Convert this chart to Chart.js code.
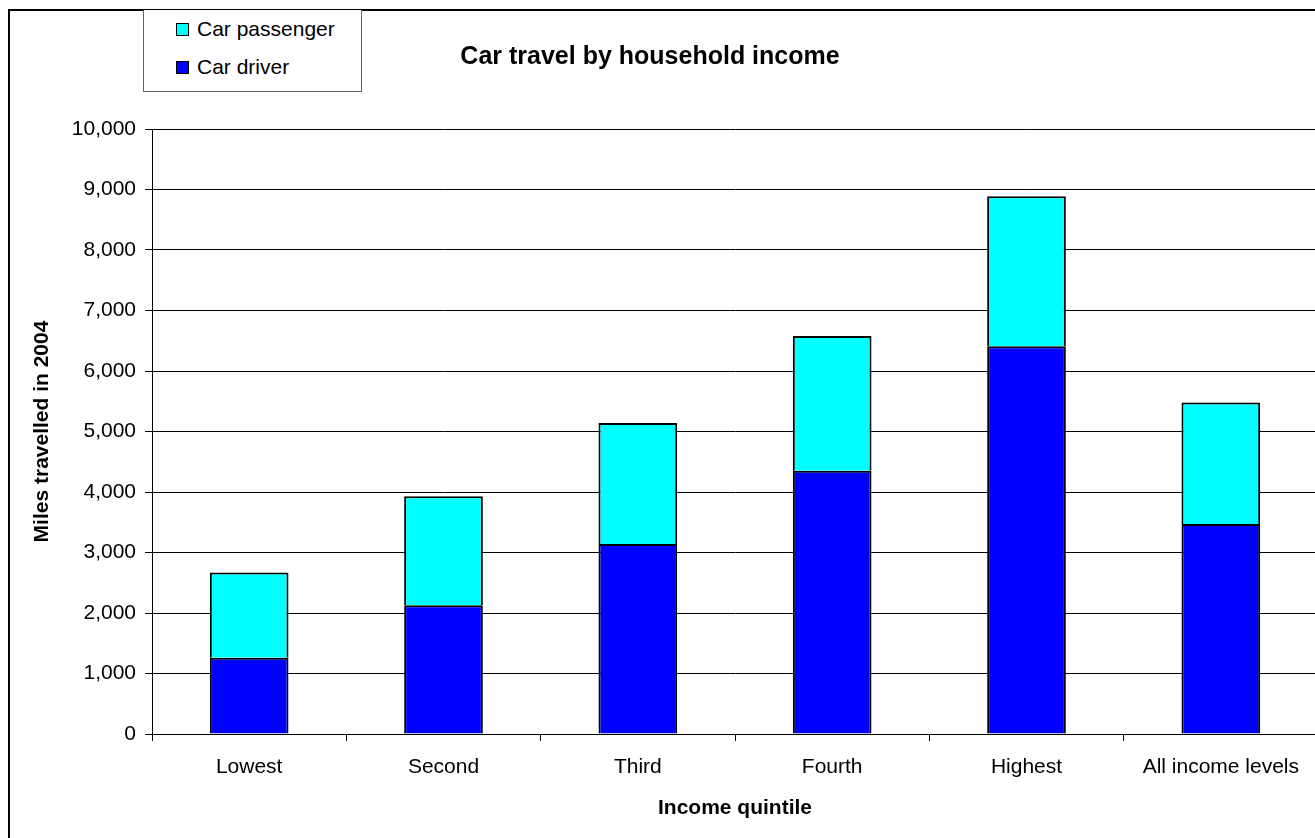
<!DOCTYPE html>
<html>
<head>
<meta charset="utf-8">
<title>Car travel by household income</title>
<script src="https://cdn.jsdelivr.net/npm/chart.js@4.4.0/dist/chart.umd.min.js"></script>
<style>
  html, body { margin: 0; padding: 0; background: #fff; overflow: hidden; width: 1315px; height: 838px; }
  body { position: relative; font-family: "Liberation Sans", Arial, sans-serif; color: #000; }
  #frame { position: absolute; left: 8px; top: 9px; width: 1400px; height: 900px; border: 2px solid #000; box-sizing: border-box; }
  #wrap { position: absolute; left: 0; top: 0; width: 1330px; height: 838px; }
  #title { position: absolute; left: 650px; top: 55px; transform: translate(-50%, -50%); font-weight: bold; font-size: 25px; white-space: nowrap; }
  #legend { position: absolute; left: 143px; top: 10px; width: 219px; height: 82px; border: 1px solid #666; border-top: none; box-sizing: border-box; background: #fff; }
  #legend .item { position: absolute; left: 32px; font-size: 21px; line-height: 24px; white-space: nowrap; }
  #legend .sw { display: inline-block; width: 11px; height: 11px; border: 1px solid #000; margin-right: 8px; vertical-align: 0px; }
</style>
</head>
<body>
<div id="frame"></div>
<div id="wrap"><canvas id="chart" width="1330" height="838"></canvas></div>
<div id="legend"></div>
<div id="title">Car travel by household income</div>
<script>
// values (miles travelled in 2004)
var categories = ["Lowest", "Second", "Third", "Fourth", "Highest", "All income levels"];
var carDriver = [1260, 2130, 3140, 4350, 6410, 3470];
var carPassenger = [1410, 1800, 2000, 2230, 2480, 2010];
var yTicks = [0, 1000, 2000, 3000, 4000, 5000, 6000, 7000, 8000, 9000, 10000];

var FONT = "'Liberation Sans', Arial, sans-serif";

var chart = new Chart(document.getElementById("chart"), {
  type: "bar",
  data: {
    labels: categories,
    datasets: [
      { label: "Car driver", data: carDriver, backgroundColor: "#0000FF", borderColor: "#000", borderWidth: 2 },
      { label: "Car passenger", data: carPassenger, backgroundColor: "#00FFFF", borderColor: "#000", borderWidth: 2 }
    ]
  },
  options: {
    responsive: false,
    animation: false,
    devicePixelRatio: 1,
    layout: { padding: { left: 22, top: 129, right: 12, bottom: 0 } },
    datasets: { bar: { categoryPercentage: 1, barPercentage: 0.405 } },
    plugins: { legend: { display: false }, title: { display: false }, tooltip: { enabled: false } },
    scales: {
      x: {
        stacked: true,
        grid: { offset: true, drawOnChartArea: false, tickLength: 7, color: "#000", lineWidth: 1 },
        border: { display: true, color: "#000", width: 1 },
        ticks: { color: "#000", font: { family: FONT, size: 21 }, padding: 14, maxRotation: 0 },
        title: { display: true, text: "Income quintile", color: "#000", font: { family: FONT, size: 21, weight: "bold" }, padding: { top: 4, bottom: 17 } },
        afterFit: function(s) { s.height = 104; }
      },
      y: {
        stacked: true,
        min: 0,
        max: 10000,
        afterBuildTicks: function(s) { s.ticks = yTicks.map(function(v) { return { value: v }; }); },
        grid: { color: "#000", lineWidth: 1, tickLength: 7 },
        border: { display: true, color: "#000", width: 1 },
        ticks: {
          color: "#000", font: { family: FONT, size: 21 }, padding: 9,
          callback: function(v) { return Number(v).toLocaleString("en-GB"); }
        },
        title: { display: true, text: "Miles travelled in 2004", color: "#000", font: { family: FONT, size: 21, weight: "bold" }, padding: { top: 8, bottom: 4 } },
        afterFit: function(s) { s.width = 130; }
      }
    }
  }
});

// legend box, passenger listed first as in the original
var legend = document.getElementById("legend");
var rows = chart.data.datasets.slice().reverse();
var rowTops = [7, 45];
rows.forEach(function(ds, i) {
  var item = document.createElement("div");
  item.className = "item";
  item.style.top = rowTops[i] + "px";
  var sw = document.createElement("span");
  sw.className = "sw";
  sw.style.background = ds.backgroundColor;
  item.appendChild(sw);
  item.appendChild(document.createTextNode(ds.label));
  legend.appendChild(item);
});
</script>
</body>
</html>
